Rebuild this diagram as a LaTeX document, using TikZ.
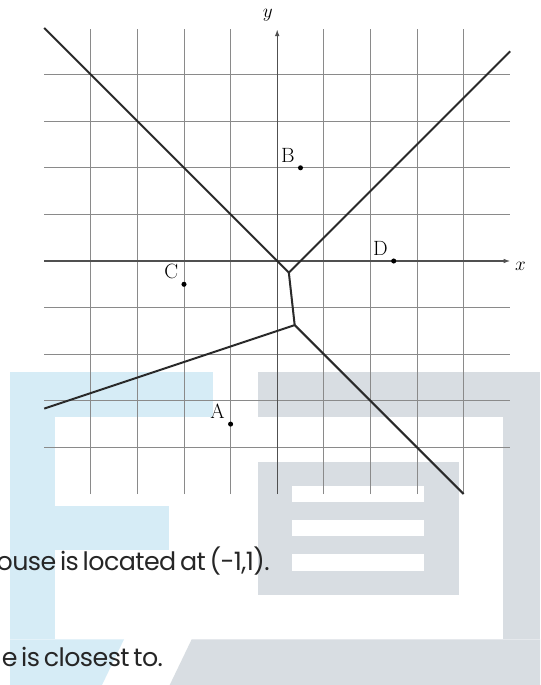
\documentclass[tikz,border=0pt]{standalone}
\usepackage{fontspec}
\newfontfamily\poppins[WordSpace=0.6,LetterSpace=-2.2]{Poppins}
\usetikzlibrary{arrows.meta}
\definecolor{logoblue}{HTML}{D6ECF6}
\definecolor{logogray}{HTML}{D8DDE2}
\definecolor{gridgray}{HTML}{8A8A8A}
\definecolor{axisgray}{HTML}{505050}
\definecolor{edgeink}{HTML}{2A2A2A}
\definecolor{inktext}{HTML}{262626}
\begin{document}
\begin{tikzpicture}[x=0.75pt,y=-0.75pt,
  gridline/.style={gridgray, line width=0.65pt},
  axisline/.style={axisgray, line width=0.85pt, -{Latex[length=5pt,width=3.5pt]}},
  celledge/.style={edgeink, line width=1.5pt, line join=round},
  site/.style={circle, fill=black, inner sep=0pt, minimum size=3.8pt},
  sitelabel/.style={inner sep=0pt, font=\fontsize{15.5}{18}\selectfont, anchor=base east},
  axislabel/.style={inner sep=0pt, font=\fontsize{15.5}{18}\selectfont},
  caption/.style={inner sep=0pt, font=\poppins\fontsize{19}{23}\selectfont, text=inktext, anchor=base east},
  logoA/.style={fill=logoblue}, logoB/.style={fill=logogray}, logohole/.style={fill=white}
]
\useasboundingbox (0,0) rectangle (540,685);
\clip (0,0) rectangle (540,685);
\fill[white] (0,0) rectangle (540,685);
% light blue shape
\fill[logoA] (10,371.7) rectangle (213.3,416.7);
\fill[logoA] (10,416.7) rectangle (55,639.3);
\fill[logoA] (55,505.7) rectangle (168.5,550);
\fill[logoA] (10,639.3) -- (124,639.3) -- (102,685) -- (10,685) -- cycle;
% gray shape
\fill[logoB] (257.7,372.3) rectangle (540,416.7);
\fill[logoB] (503.3,416.7) rectangle (540,639.3);
\fill[logoB] (191.7,639.3) -- (540,639.3) -- (540,685) -- (169.7,685) -- cycle;
\fill[logoB] (257.7,461.7) rectangle (459,595);
\fill[logohole] (292.3,486) rectangle (424.3,502.3);
\fill[logohole] (292.3,520.3) rectangle (424.3,536);
\fill[logohole] (292.3,554.3) rectangle (424.3,570.7);
% plane
\begin{scope}[shift={(277.2,261)}, x=34.95pt, y=34.95pt]
  \foreach \i in {-4,-3,-2,-1,1,2,3,4} {
    \draw[gridline] (\i,-5) -- (\i,4.97);
    \draw[gridline] (-5,\i) -- (5,\i);
  }
  \coordinate (xs) at (-5,0);
  \coordinate (xe) at (5,0);
  \coordinate (ys) at (0,-5);
  \coordinate (ye) at (0,4.97);
  \draw[axisline] (xs) -- (xe);
  \draw[axisline] (ys) -- (ye);
  \node[axislabel] (xl) at (5.22,-0.12) {$x$};
  \node[axislabel] (yl) at (-0.2,5.28) {$y$};
  % Voronoi edges
  \coordinate (v1) at (0.25,-0.25);
  \coordinate (v2) at (0.375,-1.375);
  \coordinate (e1) at (-5,5);
  \coordinate (e2) at (5,4.5);
  \coordinate (e3) at (-5,-3.1667);
  \coordinate (e4) at (4,-5);
  \draw[celledge] (e1) -- (v1) -- (e2);
  \draw[celledge] (v1) -- (v2);
  \draw[celledge] (e3) -- (v2) -- (e4);
  % sites
  \node[site] (A) at (-1,-3.5) {};
  \node[site] (B) at (0.5,2) {};
  \node[site] (C) at (-2,-0.5) {};
  \node[site] (D) at (2.5,0) {};
  \node[sitelabel] (Al) at (-1.12,-3.385) {A};
  \node[sitelabel] (Bl) at (0.38,2.115) {B};
  \node[sitelabel] (Cl) at (-2.12,-0.385) {C};
  \node[sitelabel] (Dl) at (2.38,0.115) {D};
\end{scope}
% text
\node[caption] (t1) at (270,570.7) {house is located at (-1,1).};
\node[caption] (t2) at (163.3,666) {e is closest to.};
\end{tikzpicture}
\end{document}
